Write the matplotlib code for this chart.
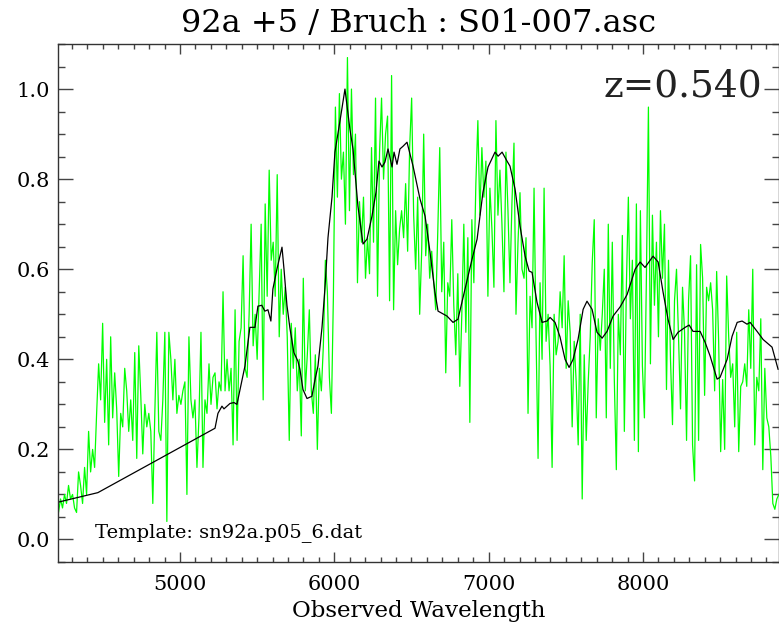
import numpy as np
import matplotlib
matplotlib.use('Agg')
import matplotlib.pyplot as plt
from matplotlib.ticker import MultipleLocator

# Spettro osservato (campionamento regolare: inizio + passo in Angstrom)
spec_start = 4200.0
spec_step = 13.0
spec_flux = [
    0.11, 0.06, 0.09, 0.07, 0.10, 0.08, 0.12, 0.09, 0.10, 0.07, 0.06, 0.15, 0.12, 0.08, 0.16, 0.10, 0.24, 0.15, 0.20, 0.16,
    0.28, 0.39, 0.31, 0.48, 0.26, 0.40, 0.21, 0.45, 0.27, 0.37, 0.29, 0.14, 0.28, 0.25, 0.38, 0.33, 0.24, 0.31, 0.22, 0.415,
    0.18, 0.43, 0.32, 0.19, 0.30, 0.25, 0.28, 0.24, 0.08, 0.28, 0.46, 0.24, 0.22, 0.31, 0.46, 0.04, 0.46, 0.40, 0.31, 0.40,
    0.28, 0.32, 0.30, 0.33, 0.35, 0.10, 0.45, 0.31, 0.27, 0.31, 0.16, 0.27, 0.46, 0.16, 0.31, 0.28, 0.39, 0.30, 0.36, 0.37,
    0.29, 0.35, 0.33, 0.55, 0.33, 0.40, 0.33, 0.38, 0.21, 0.51, 0.22, 0.44, 0.47, 0.63, 0.38, 0.36, 0.50, 0.70, 0.43, 0.50,
    0.40, 0.55, 0.70, 0.31, 0.745, 0.54, 0.82, 0.62, 0.66, 0.54, 0.81, 0.45, 0.60, 0.50, 0.56, 0.45, 0.22, 0.48, 0.38, 0.47,
    0.33, 0.40, 0.23, 0.58, 0.33, 0.41, 0.51, 0.33, 0.28, 0.41, 0.20, 0.38, 0.33, 0.43, 0.62, 0.55, 0.36, 0.28, 0.54, 0.96,
    0.76, 0.99, 0.80, 0.86, 0.70, 1.07, 0.73, 1.00, 0.81, 0.90, 0.57, 0.75, 0.66, 0.76, 0.58, 0.67, 0.59, 0.87, 0.66, 0.98,
    0.54, 0.86, 0.98, 0.80, 0.90, 0.94, 0.53, 1.03, 0.51, 0.73, 0.61, 0.69, 0.73, 0.67, 0.79, 0.64, 0.87, 0.98, 0.72, 0.60,
    0.76, 0.50, 0.64, 0.90, 0.63, 0.70, 0.58, 0.64, 0.57, 0.51, 0.68, 0.87, 0.55, 0.66, 0.37, 0.57, 0.54, 0.71, 0.52, 0.41,
    0.59, 0.34, 0.50, 0.70, 0.46, 0.67, 0.26, 0.71, 0.57, 0.79, 0.93, 0.72, 0.87, 0.76, 0.84, 0.54, 0.78, 0.69, 0.56, 0.93,
    0.72, 0.82, 0.70, 0.55, 0.86, 0.73, 0.57, 0.75, 0.88, 0.50, 0.66, 0.77, 0.60, 0.58, 0.67, 0.28, 0.54, 0.47, 0.78, 0.45,
    0.18, 0.57, 0.40, 0.78, 0.44, 0.50, 0.385, 0.16, 0.50, 0.41, 0.44, 0.55, 0.47, 0.63, 0.38, 0.53, 0.46, 0.25, 0.44, 0.35,
    0.21, 0.50, 0.09, 0.41, 0.22, 0.35, 0.45, 0.615, 0.71, 0.27, 0.49, 0.42, 0.50, 0.60, 0.27, 0.70, 0.38, 0.66, 0.355, 0.155,
    0.50, 0.41, 0.675, 0.24, 0.56, 0.76, 0.49, 0.62, 0.22, 0.745, 0.195, 0.73, 0.385, 0.27, 0.585, 0.96, 0.39, 0.72, 0.52, 0.66,
    0.45, 0.73, 0.58, 0.70, 0.333, 0.62, 0.40, 0.255, 0.53, 0.60, 0.45, 0.29, 0.56, 0.46, 0.22, 0.53, 0.63, 0.21, 0.13, 0.61,
    0.22, 0.655, 0.58, 0.32, 0.56, 0.53, 0.57, 0.51, 0.33, 0.595, 0.44, 0.195, 0.355, 0.20, 0.585, 0.45, 0.36, 0.39, 0.25, 0.46,
    0.195, 0.34, 0.35, 0.39, 0.34, 0.51, 0.38, 0.60, 0.21, 0.36, 0.33, 0.49, 0.155, 0.38, 0.27, 0.25, 0.185, 0.08, 0.067, 0.09,
    0.10,
]

# Template sn92a.p05_6 (redshiftato)
template_wave = [
    4200, 4468, 5227, 5246, 5272, 5285, 5304, 5324, 5350, 5369, 5389, 5421, 5434, 5453, 5486, 5505,
    5530, 5550, 5570, 5589, 5602, 5628, 5661, 5674, 5693, 5712, 5738, 5764, 5777, 5797, 5823, 5855,
    5875, 5894, 5920, 5939, 5959, 5985, 6004, 6037, 6069, 6101, 6121, 6153, 6186, 6212, 6244, 6270,
    6289, 6309, 6328, 6348, 6374, 6387, 6406, 6425, 6445, 6471, 6490, 6510, 6555, 6588, 6620, 6652,
    6672, 6730, 6769, 6801, 6847, 6892, 6925, 6963, 6996, 7041, 7061, 7087, 7119, 7138, 7171, 7203,
    7236, 7262, 7281, 7313, 7346, 7378, 7398, 7430, 7462, 7495, 7521, 7547, 7579, 7612, 7637, 7670,
    7702, 7735, 7767, 7806, 7851, 7897, 7949, 7981, 8013, 8065, 8098, 8130, 8162, 8195, 8227, 8273,
    8299, 8324, 8370, 8402, 8435, 8480, 8499, 8545, 8577, 8610, 8642, 8674, 8694, 8739, 8778, 8836,
    8875,
]
template_flux = [
    0.082, 0.104, 0.247, 0.280, 0.296, 0.290, 0.296, 0.302, 0.304, 0.300, 0.333, 0.385, 0.420, 0.471, 0.471, 0.518,
    0.520, 0.507, 0.510, 0.485, 0.556, 0.600, 0.649, 0.600, 0.520, 0.470, 0.415, 0.396, 0.378, 0.333, 0.313, 0.318,
    0.355, 0.385, 0.470, 0.556, 0.670, 0.760, 0.860, 0.930, 1.000, 0.911, 0.867, 0.740, 0.656, 0.667, 0.718, 0.771,
    0.840, 0.827, 0.838, 0.867, 0.827, 0.860, 0.833, 0.867, 0.873, 0.882, 0.856, 0.829, 0.756, 0.718, 0.638, 0.549,
    0.507, 0.496, 0.482, 0.489, 0.556, 0.622, 0.667, 0.771, 0.827, 0.860, 0.851, 0.860, 0.840, 0.829, 0.778, 0.696,
    0.629, 0.596, 0.593, 0.527, 0.482, 0.485, 0.493, 0.482, 0.450, 0.400, 0.382, 0.400, 0.444, 0.511, 0.529, 0.511,
    0.460, 0.447, 0.462, 0.496, 0.516, 0.544, 0.600, 0.616, 0.604, 0.629, 0.616, 0.549, 0.489, 0.444, 0.460, 0.471,
    0.476, 0.462, 0.462, 0.438, 0.407, 0.356, 0.360, 0.400, 0.451, 0.482, 0.485, 0.478, 0.482, 0.462, 0.444, 0.427,
    0.378,
]

title_text = "92a +5 / Bruch : S01-007.asc"
redshift_text = "z=0.540"
template_text = "Template: sn92a.p05_6.dat"
x_label = "Observed Wavelength"

spec_wave = spec_start + spec_step * np.arange(len(spec_flux))

plt.rcParams['font.family'] = ['DejaVu Serif']

fig = plt.figure(figsize=(7.79, 6.29), dpi=100)
ax = fig.add_axes([0.0745, 0.1065, 0.9255, 0.8235])

ax.plot(spec_wave, spec_flux, color='#00ff00', lw=0.9)
ax.plot(template_wave, template_flux, color='black', lw=0.9)

ax.set_xlim(4210, 8881)
ax.set_ylim(-0.05, 1.10)

# Stile IDL: tacche verso l'interno su tutti i lati
ax.xaxis.set_major_locator(MultipleLocator(1000))
ax.xaxis.set_minor_locator(MultipleLocator(100))
ax.yaxis.set_major_locator(MultipleLocator(0.2))
ax.yaxis.set_minor_locator(MultipleLocator(0.05))
ax.yaxis.set_major_formatter(plt.FuncFormatter(lambda v, p: f"{v:.1f}"))

ax.tick_params(axis='x', which='major', direction='in', top=True, length=7.5, width=1, color='#444444', labelsize=15, pad=9)
ax.tick_params(axis='x', which='minor', direction='in', top=True, length=3.8, width=1, color='#444444')
ax.tick_params(axis='y', which='major', direction='in', right=True, length=11, width=1, color='#444444', labelsize=15, pad=6)
ax.tick_params(axis='y', which='minor', direction='in', right=True, length=5, width=1, color='#444444')

for s in ax.spines.values():
    s.set_color('#333333')
    s.set_linewidth(1)

ax.set_title(title_text, fontsize=23, pad=9)
ax.set_xlabel(x_label, fontsize=16.5, labelpad=5)

ax.text(0.976, 0.898, redshift_text, transform=ax.transAxes, fontsize=27,
        ha='right', va='baseline', color='#222222')
ax.text(0.0513, 0.048, template_text, transform=ax.transAxes, fontsize=14,
        ha='left', va='baseline')

plt.savefig("out.png", dpi=100)
plt.close()
